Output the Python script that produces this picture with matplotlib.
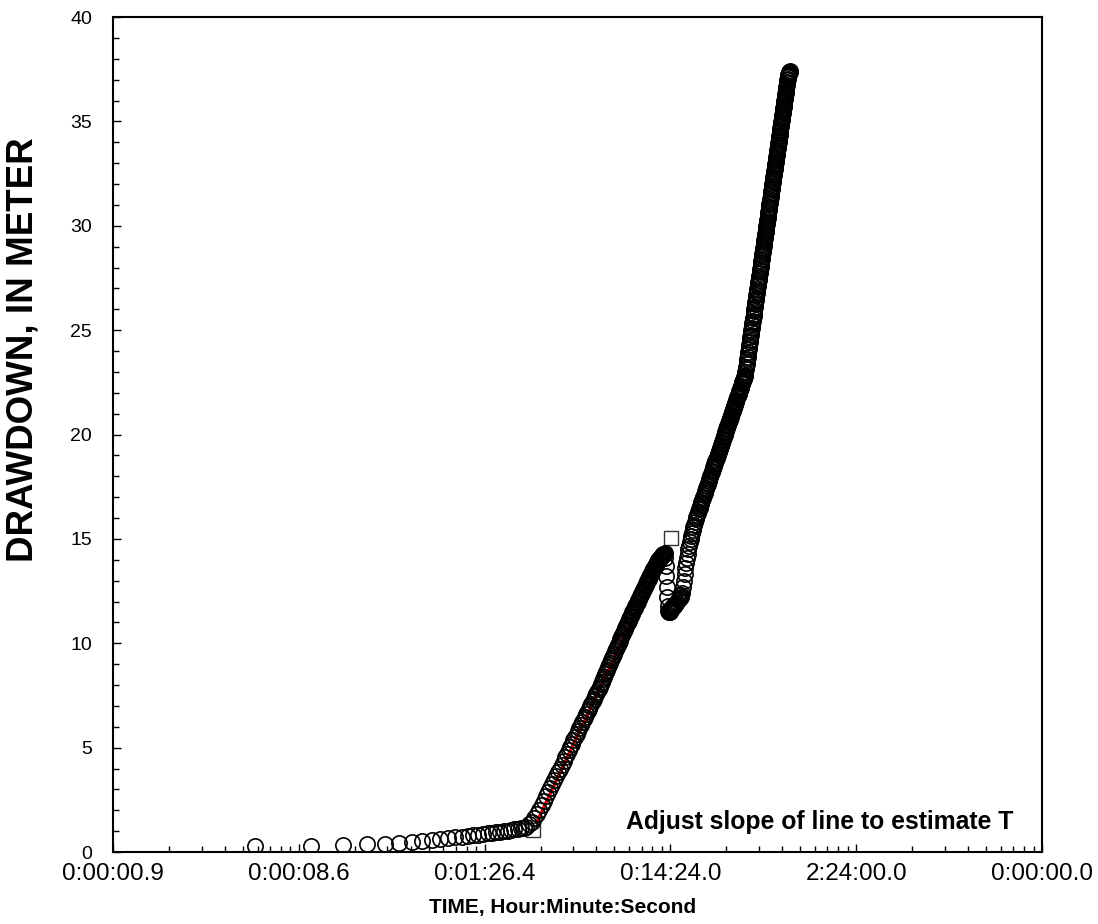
import matplotlib
matplotlib.use("Agg")
import matplotlib.pyplot as plt
from matplotlib.ticker import FixedLocator, NullFormatter, MultipleLocator, LogLocator

plt.rcParams['font.family'] = ['Liberation Sans', 'DejaVu Sans']

# ---------------- data (time in seconds, drawdown in metres) ----------------
t_early = [5, 10, 15, 20, 25, 30, 35, 40, 45, 50, 55, 60, 65, 70, 75, 80, 85, 90,
           95, 100, 105, 110, 115, 120, 125, 130, 135]
s_early = [0.30, 0.31, 0.33, 0.37, 0.40, 0.44, 0.48, 0.53, 0.58, 0.63, 0.67, 0.71,
           0.74, 0.77, 0.80, 0.83, 0.86, 0.89, 0.92, 0.95, 0.97, 1.00, 1.03, 1.06,
           1.08, 1.10, 1.13]

t_rise1 = [140, 145, 150, 155, 160, 165, 170, 175, 180, 185, 190, 195, 200, 205,
           210, 215, 220, 225, 230, 235, 240, 245, 250, 255, 260, 265, 270, 275,
           280, 285, 290, 295, 300]
s_rise1 = [1.15, 1.22, 1.32, 1.45, 1.62, 1.82, 2.03, 2.24, 2.45, 2.66, 2.86, 3.06,
           3.25, 3.44, 3.63, 3.82, 4.00, 4.18, 4.36, 4.53, 4.70, 4.87, 5.03, 5.19,
           5.35, 5.50, 5.65, 5.80, 5.94, 6.08, 6.22, 6.35, 6.48]

t_rise2 = [305, 310, 315, 320, 325, 330, 335, 340, 345, 350, 355, 360, 365, 370,
           375, 380, 385, 390, 395, 400, 405, 410, 415, 420, 425, 430, 435, 440,
           445, 450, 455, 460, 465, 470, 475, 480, 485, 490, 495, 500, 505, 510,
           515, 520, 525, 530, 535, 540, 545, 550, 555, 560, 565, 570, 575, 580,
           585, 590, 595, 600, 605, 610, 615, 620, 625, 630, 635, 640, 645, 650,
           655, 660, 665, 670, 675, 680, 685, 690, 695, 700, 705, 710, 715, 720,
           725, 730, 735, 740, 745, 750, 755, 760, 765, 770, 775, 780, 785, 790,
           795, 800, 805]
s_rise2 = [6.61, 6.74, 6.87, 6.99, 7.11, 7.23, 7.35, 7.46, 7.57, 7.68, 7.80, 7.91,
           8.03, 8.15, 8.28, 8.40, 8.51, 8.62, 8.74, 8.85, 8.96, 9.07, 9.18, 9.29,
           9.40, 9.50, 9.61, 9.71, 9.82, 9.92, 10.02, 10.11, 10.21, 10.30, 10.39,
           10.48, 10.57, 10.66, 10.75, 10.84, 10.92, 11.00, 11.08, 11.16, 11.24,
           11.32, 11.40, 11.48, 11.56, 11.63, 11.71, 11.78, 11.85, 11.92, 11.99,
           12.06, 12.13, 12.20, 12.27, 12.34, 12.41, 12.47, 12.54, 12.60, 12.67,
           12.73, 12.80, 12.86, 12.92, 12.98, 13.04, 13.10, 13.16, 13.22, 13.28,
           13.34, 13.40, 13.45, 13.51, 13.56, 13.61, 13.66, 13.71, 13.76, 13.81,
           13.85, 13.90, 13.94, 13.98, 14.02, 14.06, 14.09, 14.12, 14.15, 14.18,
           14.21, 14.24, 14.26, 14.28, 14.30, 14.32]

t_dip = [810, 815, 820, 825, 830, 835, 840, 845, 850, 855, 860, 865, 870, 875,
         880, 885, 890, 895, 900, 910, 920, 930, 940, 950, 960, 970, 980, 990]
s_dip = [14.10, 13.70, 13.20, 12.70, 12.20, 11.80, 11.55, 11.50, 11.50, 11.52,
         11.55, 11.57, 11.60, 11.65, 11.70, 11.72, 11.75, 11.78, 11.80, 11.85,
         11.90, 11.95, 12.00, 12.05, 12.10, 12.15, 12.20, 12.30]

t_rec = [1000, 1010, 1020, 1030, 1040, 1050, 1060, 1070, 1080, 1090, 1100, 1110,
         1120, 1130, 1140, 1150, 1160, 1170, 1180, 1190, 1200, 1210, 1220, 1230,
         1240, 1250, 1260, 1270, 1280, 1290, 1300, 1310, 1320, 1330, 1340, 1350,
         1360, 1370, 1380, 1390, 1400, 1410, 1420, 1430, 1440, 1450, 1460, 1470,
         1480, 1490, 1500, 1510, 1520, 1530, 1540, 1550, 1560, 1570, 1580, 1590,
         1600, 1610, 1620, 1630, 1640, 1650, 1660, 1670, 1680, 1690, 1700, 1710,
         1720, 1730, 1740, 1750, 1760, 1770, 1780, 1790, 1800, 1810, 1820, 1830,
         1840, 1850, 1860, 1870, 1880, 1890, 1900, 1910, 1920, 1930, 1940, 1950,
         1960, 1970, 1980, 1990, 2000, 2010, 2020, 2030, 2040, 2050, 2060, 2070,
         2080, 2090, 2100, 2110, 2120, 2130, 2140, 2150, 2160, 2170, 2180]
s_rec = [12.40, 12.70, 13.00, 13.30, 13.60, 13.85, 14.10, 14.30, 14.50, 14.68,
         14.85, 15.00, 15.15, 15.29, 15.42, 15.55, 15.68, 15.81, 15.94, 16.04,
         16.13, 16.22, 16.31, 16.41, 16.50, 16.59, 16.68, 16.77, 16.86, 16.95,
         17.03, 17.12, 17.20, 17.29, 17.37, 17.46, 17.54, 17.62, 17.70, 17.79,
         17.87, 17.95, 18.03, 18.11, 18.19, 18.27, 18.34, 18.42, 18.49, 18.57,
         18.65, 18.73, 18.80, 18.87, 18.94, 19.02, 19.09, 19.16, 19.23, 19.30,
         19.37, 19.45, 19.52, 19.59, 19.65, 19.72, 19.79, 19.86, 19.93, 20.00,
         20.06, 20.13, 20.19, 20.26, 20.32, 20.39, 20.45, 20.52, 20.58, 20.64,
         20.70, 20.77, 20.83, 20.89, 20.95, 21.02, 21.08, 21.14, 21.20, 21.26,
         21.32, 21.38, 21.43, 21.49, 21.55, 21.61, 21.67, 21.73, 21.78, 21.84,
         21.89, 21.95, 22.01, 22.07, 22.12, 22.18, 22.23, 22.29, 22.34, 22.40,
         22.45, 22.50, 22.55, 22.61, 22.66, 22.71, 22.76, 22.82, 22.87]

t_late = [2190, 2200, 2210, 2220, 2230, 2240, 2250, 2260, 2270, 2280, 2290, 2300,
          2310, 2320, 2330, 2340, 2350, 2360, 2370, 2380, 2390, 2400, 2410, 2420,
          2430, 2440, 2450, 2460, 2470, 2480, 2490, 2500, 2510, 2520, 2530, 2540,
          2550, 2560, 2570, 2580, 2590, 2600, 2610, 2620, 2630, 2640, 2650, 2660,
          2670, 2680, 2690, 2700, 2710, 2720, 2730, 2740, 2750, 2760, 2770, 2780,
          2790, 2800, 2810, 2820, 2830, 2840, 2850, 2860, 2870, 2880, 2890, 2900,
          2910, 2920, 2930, 2940, 2950, 2960, 2970, 2980, 2990, 3000, 3010, 3020,
          3030, 3040, 3050, 3060, 3070, 3080, 3090, 3100, 3110, 3120, 3130, 3140,
          3150, 3160, 3170, 3180, 3190, 3200, 3210, 3220, 3230, 3240, 3250, 3260,
          3270, 3280, 3290, 3300, 3310, 3320, 3330, 3340, 3350, 3360, 3370, 3380,
          3390, 3400, 3410, 3420, 3430, 3440, 3450, 3460, 3470, 3480, 3490, 3500,
          3510, 3520, 3530, 3540, 3550, 3560, 3570, 3580, 3590, 3600, 3610, 3620,
          3630, 3640, 3650, 3660, 3670, 3680, 3690, 3700, 3710, 3720, 3730, 3740,
          3750, 3760, 3770, 3780, 3790, 3800]
s_late = [23.00, 23.12, 23.24, 23.36, 23.48, 23.60, 23.72, 23.84, 23.96, 24.08,
          24.20, 24.31, 24.43, 24.55, 24.67, 24.78, 24.90, 25.01, 25.12, 25.23,
          25.35, 25.46, 25.57, 25.68, 25.79, 25.90, 26.01, 26.12, 26.23, 26.34,
          26.45, 26.56, 26.67, 26.77, 26.88, 26.99, 27.10, 27.20, 27.31, 27.41,
          27.51, 27.61, 27.72, 27.82, 27.92, 28.02, 28.13, 28.23, 28.33, 28.43,
          28.53, 28.63, 28.73, 28.83, 28.93, 29.03, 29.13, 29.22, 29.32, 29.42,
          29.52, 29.61, 29.71, 29.80, 29.90, 29.99, 30.09, 30.18, 30.28, 30.37,
          30.46, 30.55, 30.65, 30.74, 30.83, 30.92, 31.02, 31.11, 31.20, 31.29,
          31.38, 31.47, 31.56, 31.65, 31.74, 31.82, 31.91, 32.00, 32.09, 32.18,
          32.27, 32.35, 32.44, 32.52, 32.61, 32.70, 32.79, 32.87, 32.96, 33.04,
          33.13, 33.22, 33.30, 33.37, 33.46, 33.54, 33.63, 33.71, 33.79, 33.87,
          33.95, 34.03, 34.12, 34.20, 34.28, 34.36, 34.44, 34.52, 34.60, 34.68,
          34.76, 34.84, 34.92, 34.99, 35.07, 35.15, 35.23, 35.31, 35.39, 35.46,
          35.54, 35.62, 35.70, 35.77, 35.85, 35.92, 36.00, 36.08, 36.16, 36.23,
          36.31, 36.38, 36.45, 36.52, 36.60, 36.67, 36.75, 36.82, 36.90, 36.97,
          37.04, 37.11, 37.16, 37.20, 37.24, 37.27, 37.30, 37.32, 37.34, 37.36,
          37.38, 37.40]

# straight-line fit (two end points), time in days
fit_t_days = [0.001824, 0.01004]
fit_s = [1.05, 15.04]

# axis ticks
x_tick_days = [1e-5, 1e-4, 1e-3, 1e-2, 1e-1, 1.0]
x_tick_labels = ["0:00:00.9", "0:00:08.6", "0:01:26.4", "0:14:24.0", "2:24:00.0",
                 "0:00:00.0"]
y_ticks = [0, 5, 10, 15, 20, 25, 30, 35, 40]

SEC_PER_DAY = 86400.0
t_all = t_early + t_rise1 + t_rise2 + t_dip + t_rec + t_late
s_all = s_early + s_rise1 + s_rise2 + s_dip + s_rec + s_late
t_days = [t / SEC_PER_DAY for t in t_all]

# ---------------- figure ----------------
fig = plt.figure(figsize=(10.98, 9.24), dpi=100)
ax = fig.add_axes([0.1029, 0.0779, 0.8461, 0.9037])

ax.plot(fit_t_days, fit_s, color='#e00000', lw=2.4, marker='s', ms=9.5,
        mfc='white', mec='#333333', mew=1.0, zorder=2)
ax.plot(t_days, s_all, linestyle='none', marker='o', ms=11.0, mfc='none',
        mec='black', mew=1.2, zorder=3)

ax.set_xscale('log')
ax.set_xlim(1e-5, 1.0)
ax.set_ylim(0, 40)

ax.xaxis.set_major_locator(FixedLocator(x_tick_days))
ax.set_xticklabels(x_tick_labels)
ax.xaxis.set_minor_locator(LogLocator(base=10, subs=[2, 3, 4, 5, 6, 7, 8, 9], numticks=20))
ax.xaxis.set_minor_formatter(NullFormatter())
ax.set_yticks(y_ticks)
ax.yaxis.set_minor_locator(MultipleLocator(1))

ax.tick_params(axis='both', which='both', direction='in', top=False, right=False,
               width=1.0, color='black')
ax.tick_params(axis='both', which='major', length=6)
ax.tick_params(axis='both', which='minor', length=4)
ax.tick_params(axis='x', which='major', labelsize=17.5, pad=8)
ax.tick_params(axis='y', which='major', labelsize=14, pad=15)

for sp in ax.spines.values():
    sp.set_linewidth(1.5)
    sp.set_color('black')

ax.text(0.969, 0.036, "Adjust slope of line to estimate T", transform=ax.transAxes,
        ha='right', va='center', fontsize=17.8, fontweight='bold')

fig.text(23 / 1098, 1 - 350 / 924, "DRAWDOWN, IN METER", rotation=90,
         ha='center', va='center', fontsize=26.5, fontweight='bold')
fig.text(562.5 / 1098, 1 - 908 / 924, "TIME, Hour:Minute:Second",
         ha='center', va='center', fontsize=15, fontweight='bold')

fig.savefig("out.png", dpi=100, facecolor='white')
